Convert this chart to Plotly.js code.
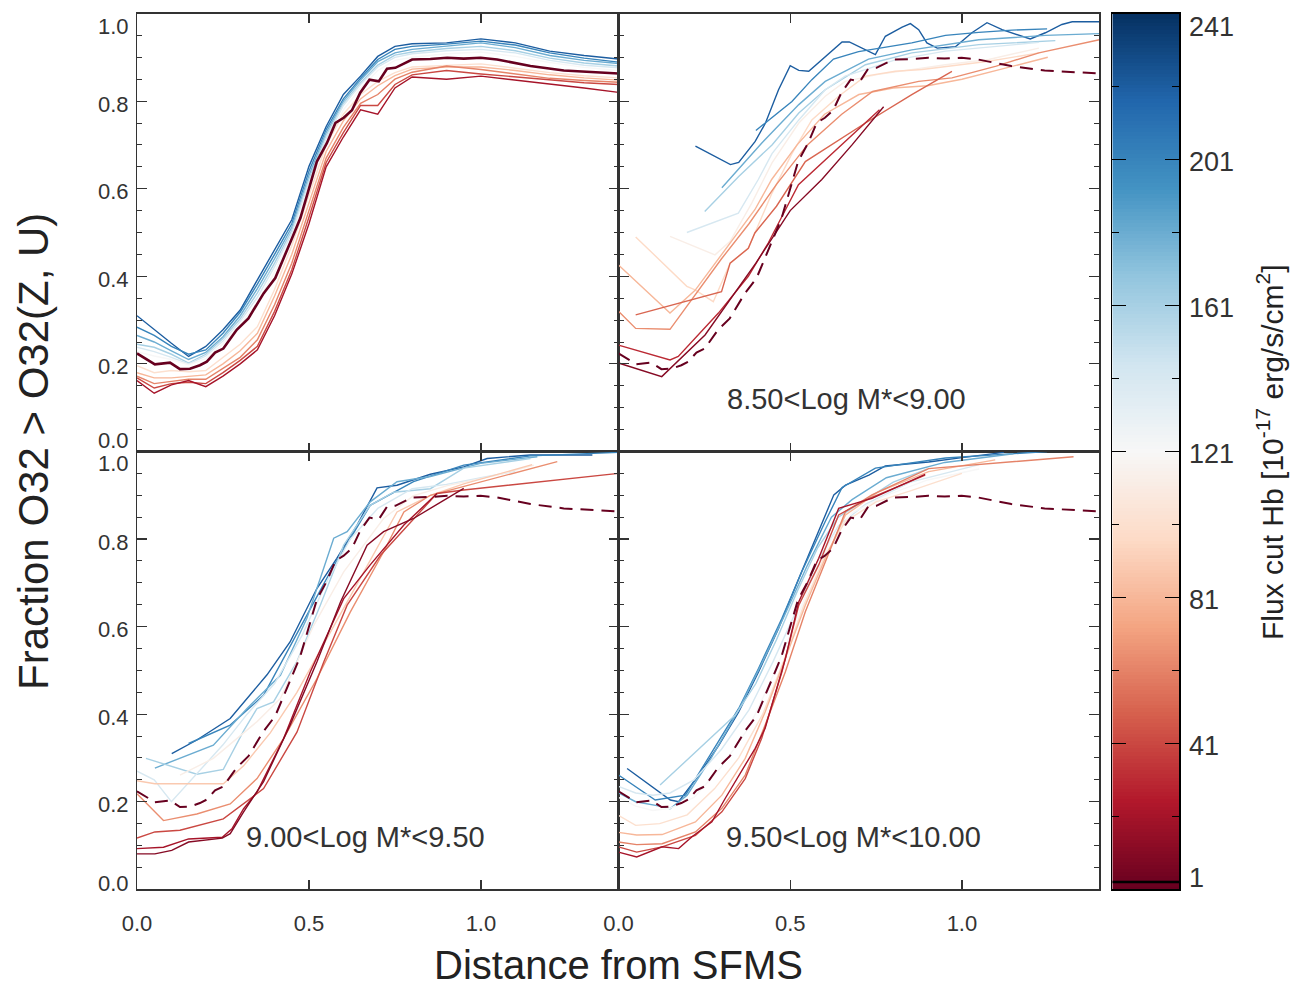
<!DOCTYPE html>
<html><head><meta charset="utf-8">
<script src="https://cdn.plot.ly/plotly-3.0.1.min.js"></script>
<style>html,body{margin:0;padding:0;background:#fff}#chart{width:1290px;height:989px}</style>
</head><body><div id="chart"></div>
<script>
// ---------- tick labels ----------
const xTickVals = [0, 0.5, 1.0];
const xTickText = ['0.0', '0.5', '1.0'];
const yTickVals = [0, 0.2, 0.4, 0.6, 0.8, 1.0];
const yTickText = ['0.0', '0.2', '0.4', '0.6', '0.8', '1.0'];
const cbTickVals = [1, 41, 81, 121, 161, 201, 241];
const cbTickText = ['1', '41', '81', '121', '161', '201', '241'];
const cbMinorVals = [21, 61, 101, 141, 181, 221];
const massLabels = ['8.50&lt;Log M*&lt;9.00', '9.00&lt;Log M*&lt;9.50', '9.50&lt;Log M*&lt;10.00'];
const fullSampleMark = 3;

// ---------- full sample (flux cut 1) ----------
const allCut = 1;
const allX = [0.0,0.052,0.096,0.125,0.154,0.183,0.203,0.227,0.251,0.290,0.324,0.368,0.402,0.436,0.455,0.475,0.499,0.523,0.552,0.577,0.601,0.625,0.649,0.676,0.703,0.727,0.751,0.800,0.853,0.902,0.950,0.999,1.047,1.144,1.241,1.400];
const allY = [0.224,0.199,0.203,0.188,0.189,0.197,0.205,0.226,0.235,0.278,0.304,0.361,0.396,0.462,0.495,0.533,0.598,0.662,0.704,0.750,0.762,0.779,0.819,0.849,0.845,0.874,0.876,0.895,0.896,0.899,0.897,0.899,0.895,0.880,0.870,0.863];

// ---------- top-left panel: all masses ----------
const tlX = [0,0.05,0.1,0.15,0.2,0.25,0.3,0.35,0.4,0.45,0.5,0.55,0.6,0.65,0.7,0.75,0.8,0.9,1.0,1.1,1.2,1.3,1.4];
const tl221 = [0.310,0.278,0.247,0.217,0.240,0.278,0.323,0.392,0.461,0.529,0.651,0.742,0.815,0.857,0.902,0.925,0.931,0.933,0.942,0.933,0.914,0.904,0.896];
const tl201 = [0.284,0.265,0.240,0.222,0.232,0.270,0.318,0.382,0.450,0.520,0.640,0.735,0.805,0.852,0.895,0.918,0.925,0.930,0.937,0.928,0.910,0.898,0.889];
const tl181 = [0.265,0.250,0.230,0.210,0.226,0.262,0.310,0.372,0.440,0.512,0.630,0.728,0.800,0.848,0.890,0.910,0.918,0.925,0.933,0.922,0.904,0.893,0.886];
const tl161 = [0.245,0.238,0.222,0.202,0.222,0.258,0.303,0.362,0.430,0.505,0.622,0.722,0.795,0.842,0.882,0.905,0.912,0.920,0.925,0.915,0.898,0.887,0.880];
const tl141 = [0.238,0.228,0.215,0.200,0.218,0.252,0.297,0.352,0.422,0.498,0.615,0.715,0.790,0.838,0.878,0.900,0.908,0.915,0.918,0.910,0.893,0.882,0.876];
const tl121 = [0.228,0.218,0.210,0.198,0.212,0.246,0.290,0.340,0.410,0.488,0.605,0.705,0.780,0.830,0.870,0.893,0.900,0.908,0.912,0.902,0.888,0.877,0.870];
const tl101 = [0.196,0.180,0.185,0.182,0.185,0.215,0.245,0.285,0.370,0.470,0.585,0.700,0.770,0.815,0.845,0.865,0.878,0.882,0.885,0.875,0.865,0.858,0.853];
const tl81  = [0.180,0.168,0.168,0.172,0.175,0.200,0.230,0.270,0.355,0.450,0.565,0.685,0.755,0.805,0.835,0.858,0.873,0.878,0.878,0.870,0.860,0.853,0.848];
const tl61  = [0.172,0.155,0.160,0.165,0.165,0.190,0.215,0.255,0.335,0.430,0.550,0.670,0.740,0.795,0.815,0.850,0.866,0.880,0.872,0.862,0.852,0.847,0.843];
const tl41  = [0.168,0.145,0.155,0.158,0.155,0.180,0.208,0.240,0.320,0.415,0.535,0.660,0.728,0.790,0.790,0.838,0.860,0.870,0.862,0.855,0.848,0.842,0.838];
const tl21  = [0.162,0.133,0.152,0.162,0.148,0.172,0.200,0.232,0.310,0.405,0.520,0.650,0.718,0.780,0.770,0.830,0.855,0.850,0.857,0.848,0.840,0.830,0.820];

// ---------- top-right panel: 8.50 < Log M* < 9.00 ----------
const p2_221_x = [0.224,0.326,0.350,0.398,0.428,0.466,0.500,0.525,0.554,0.602,0.651,0.672,0.709,0.748,0.777,0.826,0.850,0.874,0.898,0.928,0.981,1.029,1.073,1.117,1.199,1.243,1.291,1.321,1.400];
const p2_221_y = [0.697,0.655,0.660,0.708,0.750,0.826,0.881,0.870,0.868,0.902,0.935,0.935,0.921,0.906,0.948,0.969,0.977,0.963,0.933,0.921,0.924,0.956,0.979,0.963,0.942,0.956,0.975,0.981,0.981];
const p2_201_x = [0.400,0.505,0.563,0.626,0.699,0.757,0.854,0.952,1.049,1.146,1.248];
const p2_201_y = [0.733,0.799,0.849,0.896,0.913,0.921,0.933,0.950,0.957,0.962,0.965];
const p2_181_x = [0.301,0.418,0.525,0.602,0.728,0.854,1.049,1.243,1.400];
const p2_181_y = [0.602,0.705,0.792,0.845,0.896,0.917,0.940,0.950,0.954];
const p2_161_x = [0.251,0.350,0.447,0.525,0.602,0.719,0.854,1.049,1.272];
const p2_161_y = [0.548,0.628,0.700,0.773,0.826,0.883,0.910,0.929,0.938];
const p2_141_x = [0.199,0.349,0.407,0.447,0.525,0.602,0.660,0.806,0.952,1.224];
const p2_141_y = [0.500,0.544,0.621,0.680,0.757,0.826,0.857,0.894,0.914,0.934];
const p2_113_x = [0.150,0.281,0.325,0.388,0.447,0.525,0.602,0.660,0.757,0.854,0.952,1.078,1.224];
const p2_113_y = [0.491,0.449,0.480,0.567,0.659,0.750,0.811,0.845,0.861,0.872,0.883,0.895,0.921];
const p2_97_x = [0.050,0.199,0.223,0.276,0.325,0.378,0.447,0.505,0.563,0.641,0.719,0.806,0.884,1.078,1.224];
const p2_97_y = [0.490,0.377,0.369,0.342,0.430,0.464,0.590,0.680,0.757,0.811,0.857,0.868,0.872,0.891,0.910];
const p2_81_x = [0.0,0.150,0.223,0.300,0.397,0.446,0.520,0.600,0.700,0.800,0.900,1.000,1.150,1.250];
const p2_81_y = [0.426,0.316,0.368,0.449,0.552,0.621,0.700,0.770,0.815,0.830,0.835,0.850,0.880,0.900];
const p2_65_x = [0.0,0.050,0.150,0.228,0.300,0.380,0.460,0.550,0.650,0.740,0.874,0.971,1.100,1.224,1.400];
const p2_65_y = [0.320,0.281,0.279,0.362,0.440,0.520,0.610,0.700,0.770,0.822,0.845,0.853,0.880,0.910,0.940];
const p2_51_x = [0.050,0.300,0.325,0.378,0.397,0.460,0.544,0.620,0.719,0.854,0.971];
const p2_51_y = [0.312,0.365,0.430,0.464,0.499,0.560,0.662,0.700,0.750,0.815,0.868];
const p2_31_x = [0.0,0.150,0.174,0.291,0.378,0.436,0.524,0.650,0.760];
const p2_31_y = [0.243,0.209,0.217,0.316,0.400,0.476,0.609,0.700,0.780];
const p2_11_x = [0.0,0.126,0.252,0.400,0.500,0.592,0.680,0.772];
const p2_11_y = [0.202,0.171,0.266,0.430,0.550,0.621,0.700,0.787];

// ---------- bottom-left panel: 9.00 < Log M* < 9.50 ----------
const p3_221_x = [0.101,0.174,0.271,0.378,0.445,0.523,0.581,0.640,0.698,0.756,0.853,0.950,1.018,1.144,1.324];
const p3_221_y = [0.310,0.341,0.390,0.490,0.565,0.687,0.756,0.832,0.917,0.923,0.948,0.965,0.984,0.992,0.992];
const p3_201_x = [0.150,0.271,0.368,0.484,0.562,0.678,0.804,0.950,1.144,1.400];
const p3_201_y = [0.333,0.375,0.443,0.610,0.725,0.877,0.931,0.969,0.990,0.998];
const p3_181_x = [0.052,0.222,0.320,0.417,0.494,0.572,0.611,0.678,0.756,0.853,0.999,1.164];
const p3_181_y = [0.277,0.329,0.413,0.489,0.619,0.802,0.817,0.885,0.931,0.943,0.973,0.988];
const p3_161_x = [0.026,0.174,0.251,0.310,0.349,0.397,0.465,0.533,0.601,0.678,0.746,0.853,0.950,1.144];
const p3_161_y = [0.299,0.263,0.274,0.362,0.413,0.428,0.520,0.649,0.786,0.877,0.907,0.915,0.962,0.984];
const p3_141_x = [0.0,0.050,0.100,0.170,0.250,0.320,0.400,0.480,0.550,0.620,0.700,0.800,0.900,1.000,1.100];
const p3_141_y = [0.270,0.250,0.200,0.260,0.330,0.400,0.470,0.580,0.700,0.800,0.870,0.915,0.925,0.940,0.955];
const p3_113_x = [0.125,0.222,0.349,0.417,0.514,0.601,0.717,0.804,0.902,1.047,1.154];
const p3_113_y = [0.261,0.299,0.383,0.436,0.603,0.725,0.847,0.899,0.922,0.946,0.969];
const p3_89_x = [0.0,0.052,0.251,0.310,0.388,0.465,0.562,0.659,0.756,0.853,0.950,1.149];
const p3_89_y = [0.248,0.241,0.241,0.282,0.358,0.450,0.587,0.725,0.862,0.900,0.926,0.970];
const p3_65_x = [0.0,0.077,0.174,0.271,0.349,0.426,0.523,0.620,0.717,0.776,0.853,0.999,1.222];
const p3_65_y = [0.218,0.157,0.172,0.195,0.253,0.344,0.481,0.633,0.771,0.862,0.900,0.931,0.977];
const p3_41_x = [0.0,0.052,0.125,0.251,0.368,0.465,0.543,0.611,0.708,0.804,0.872,0.950,1.400];
const p3_41_y = [0.117,0.131,0.135,0.161,0.230,0.359,0.519,0.649,0.763,0.847,0.904,0.912,0.950];
const p3_21_x = [0.0,0.077,0.150,0.248,0.276,0.310,0.349,0.426,0.504,0.601,0.678,0.776,0.872];
const p3_21_y = [0.093,0.096,0.115,0.119,0.138,0.184,0.222,0.344,0.497,0.664,0.741,0.832,0.904];
const p3_11_x = [0.0,0.052,0.101,0.150,0.248,0.271,0.310,0.368,0.445,0.523,0.592,0.669,0.717,0.804,0.950];
const p3_11_y = [0.081,0.081,0.089,0.108,0.117,0.127,0.177,0.246,0.375,0.519,0.657,0.786,0.817,0.847,0.916];

// ---------- bottom-right panel: 9.50 < Log M* < 10.00 ----------
const p4_221_x = [0.025,0.151,0.175,0.233,0.292,0.350,0.408,0.466,0.525,0.583,0.627,0.661,0.729,0.777,0.903,1.000,1.122];
const p4_221_y = [0.276,0.204,0.200,0.260,0.329,0.405,0.497,0.596,0.710,0.817,0.901,0.923,0.946,0.967,0.976,0.986,0.998];
const p4_201_x = [0.0,0.107,0.195,0.272,0.350,0.408,0.476,0.534,0.602,0.651,0.748,0.952,1.248];
const p4_201_y = [0.261,0.204,0.215,0.314,0.413,0.505,0.619,0.726,0.840,0.918,0.962,0.985,1.000];
const p4_181_x = [0.0,0.050,0.120,0.150,0.200,0.270,0.350,0.420,0.480,0.550,0.620,0.680,0.780,0.950,1.150];
const p4_181_y = [0.220,0.200,0.190,0.184,0.215,0.300,0.410,0.520,0.620,0.740,0.850,0.890,0.940,0.975,0.995];
const p4_161_x = [0.121,0.340,0.400,0.460,0.520,0.580,0.640,0.720,0.800,0.900];
const p4_161_y = [0.238,0.398,0.470,0.570,0.680,0.780,0.850,0.890,0.930,0.960];
const p4_141_x = [0.0,0.050,0.100,0.150,0.220,0.300,0.380,0.450,0.520,0.580,0.640,0.720,0.850,1.050];
const p4_141_y = [0.235,0.220,0.215,0.220,0.250,0.320,0.410,0.520,0.640,0.750,0.830,0.880,0.930,0.970];
const p4_121_x = [0.0,0.050,0.100,0.150,0.220,0.300,0.380,0.440,0.500,0.560,0.620,0.680,0.780,0.900,1.050];
const p4_121_y = [0.210,0.190,0.180,0.185,0.210,0.280,0.370,0.470,0.580,0.700,0.800,0.860,0.900,0.935,0.960];
const p4_101_x = [0.0,0.050,0.120,0.200,0.280,0.350,0.420,0.480,0.540,0.600,0.660,0.750,0.850,1.000];
const p4_101_y = [0.169,0.146,0.150,0.170,0.230,0.300,0.400,0.520,0.650,0.760,0.840,0.885,0.910,0.950];
const p4_81_x = [0.0,0.053,0.127,0.224,0.301,0.369,0.427,0.486,0.544,0.602,0.661,0.757,0.903,1.097];
const p4_81_y = [0.130,0.124,0.125,0.154,0.215,0.299,0.405,0.527,0.649,0.756,0.855,0.908,0.954,0.981];
const p4_61_x = [0.0,0.053,0.127,0.224,0.301,0.369,0.427,0.486,0.544,0.602,0.661,0.738,0.903,1.325];
const p4_61_y = [0.108,0.102,0.104,0.131,0.185,0.261,0.375,0.497,0.634,0.749,0.863,0.901,0.961,0.988];
const p4_41_x = [0.0,0.053,0.127,0.224,0.301,0.369,0.417,0.476,0.525,0.583,0.641,0.719,0.893];
const p4_41_y = [0.097,0.085,0.097,0.123,0.177,0.253,0.345,0.497,0.649,0.741,0.855,0.889,0.946];
const p4_21_x = [0.0,0.053,0.127,0.175,0.214,0.272,0.311,0.369,0.398,0.427,0.486,0.525,0.583,0.641,0.738,0.893];
const p4_21_y = [0.085,0.074,0.097,0.093,0.120,0.154,0.208,0.284,0.322,0.368,0.527,0.657,0.756,0.870,0.893,0.948];

// ---------- colour scale (ColorBrewer RdBu, red = low) ----------
const rdbu = ['#67001f','#b2182b','#d6604d','#f4a582','#fddbc7','#f7f7f7','#d1e5f0','#92c5de','#4393c3','#2166ac','#053061'];
const cbMin = cbTickVals[0], cbMax = cbTickVals[cbTickVals.length - 1];
function hexRgb(h) { return [1, 3, 5].map(i => parseInt(h.slice(i, i + 2), 16)); }
function cutColor(v) {
  let t = (v - cbMin) / (cbMax - cbMin) * (rdbu.length - 1);
  t = Math.max(0, Math.min(rdbu.length - 1, t));
  const i = Math.min(rdbu.length - 2, Math.floor(t)), f = t - i;
  const a = hexRgb(rdbu[i]), b = hexRgb(rdbu[i + 1]);
  const c = a.map((q, k) => Math.round(q + (b[k] - q) * f));
  return 'rgb(' + c.join(',') + ')';
}

// ---------- geometry ----------
const W = 1290, H = 989;
const fx = v => v / W, fy = v => 1 - v / H;
const colL = 137, colM = 618.5, colR = 1099.3, rowT = 13.5, rowM = 451.5, rowB = 889.3;
const FONT = '"Liberation Sans", Arial, Helvetica, sans-serif';
const INK = '#333';

// ---------- traces ----------
const traces = [];
function addLine(x, y, cut, xa, ya, extra) {
  traces.push(Object.assign({
    type: 'scatter', mode: 'lines', x: x, y: y, xaxis: xa, yaxis: ya,
    hoverinfo: 'skip', line: { color: cutColor(cut), width: 1.4 }
  }, extra || {}));
}
const tlSets = [[221, tl221], [201, tl201], [181, tl181], [161, tl161], [141, tl141], [121, tl121], [101, tl101], [81, tl81], [61, tl61], [41, tl41], [21, tl21]];
tlSets.forEach(s => addLine(tlX, s[1], s[0], 'x', 'y'));
addLine(allX, allY, allCut, 'x', 'y', { line: { color: cutColor(allCut), width: 2.6 } });

const p2Sets = [[221, p2_221_x, p2_221_y], [201, p2_201_x, p2_201_y], [181, p2_181_x, p2_181_y], [161, p2_161_x, p2_161_y], [141, p2_141_x, p2_141_y], [113, p2_113_x, p2_113_y], [97, p2_97_x, p2_97_y], [81, p2_81_x, p2_81_y], [65, p2_65_x, p2_65_y], [51, p2_51_x, p2_51_y], [31, p2_31_x, p2_31_y], [11, p2_11_x, p2_11_y]];
const p3Sets = [[221, p3_221_x, p3_221_y], [201, p3_201_x, p3_201_y], [181, p3_181_x, p3_181_y], [161, p3_161_x, p3_161_y], [141, p3_141_x, p3_141_y], [113, p3_113_x, p3_113_y], [89, p3_89_x, p3_89_y], [65, p3_65_x, p3_65_y], [41, p3_41_x, p3_41_y], [21, p3_21_x, p3_21_y], [11, p3_11_x, p3_11_y]];
const p4Sets = [[221, p4_221_x, p4_221_y], [201, p4_201_x, p4_201_y], [181, p4_181_x, p4_181_y], [161, p4_161_x, p4_161_y], [141, p4_141_x, p4_141_y], [121, p4_121_x, p4_121_y], [101, p4_101_x, p4_101_y], [81, p4_81_x, p4_81_y], [61, p4_61_x, p4_61_y], [41, p4_41_x, p4_41_y], [21, p4_21_x, p4_21_y]];
[[p2Sets, 'x2', 'y2'], [p3Sets, 'x3', 'y3'], [p4Sets, 'x4', 'y4']].forEach(p => {
  p[0].forEach(s => addLine(s[1], s[2], s[0], p[1], p[2]));
  addLine(allX, allY, allCut, p[1], p[2], { line: { color: cutColor(allCut), width: 2.0, dash: '13px,8px' } });
});

// colour bar drawn as a heatmap on its own axes
const cbLevels = [];
for (let v = cbMin; v <= cbMax; v++) cbLevels.push(v);
traces.push({
  type: 'heatmap', x: [0.5], y: cbLevels, z: cbLevels.map(v => [v]),
  xaxis: 'x5', yaxis: 'y5', zmin: cbMin, zmax: cbMax,
  colorscale: rdbu.map((c, i) => [i / (rdbu.length - 1), c]),
  showscale: false, hoverinfo: 'skip'
});
traces.push({
  type: 'scatter', mode: 'lines', x: [0, 1], y: [fullSampleMark, fullSampleMark],
  xaxis: 'x5', yaxis: 'y5', hoverinfo: 'skip', line: { color: '#000', width: 2.5 }
});

// ---------- axes ----------
function xAxis(domain, anchor, labels) {
  return {
    domain: domain, anchor: anchor, range: [0, 1.4],
    tickmode: 'array', tickvals: xTickVals, ticktext: xTickText, showticklabels: labels,
    ticks: 'inside', ticklen: 9, tickwidth: 1.2, tickcolor: INK,
    mirror: 'ticks', showline: true, linecolor: INK, linewidth: 1.5,
    showgrid: false, zeroline: false, fixedrange: true,
    tickfont: { family: FONT, size: 22, color: INK }, ticklabelstandoff: 14
  };
}
function yAxis(domain, anchor) {
  return {
    domain: domain, anchor: anchor, range: [0, 1],
    tickmode: 'array', tickvals: yTickVals, showticklabels: false,
    ticks: 'inside', ticklen: 10, tickwidth: 1.2, tickcolor: INK,
    minor: { tickmode: 'linear', tick0: 0, dtick: 0.05, ticks: 'inside', ticklen: 5, tickwidth: 1, tickcolor: INK },
    mirror: 'ticks', showline: true, linecolor: INK, linewidth: 1.5,
    showgrid: false, zeroline: false, fixedrange: true
  };
}
const xLeft = [fx(colL), fx(colM)], xRight = [fx(colM), fx(colR)];
const yTop = [fy(rowM), fy(rowT)], yBot = [fy(rowB), fy(rowM)];

// ---------- annotations ----------
const ann = [];
const tickFont = { family: FONT, size: 22, color: INK };
function yShiftFor(i, n, top, bottom) { return i === n - 1 ? top : (i === 0 ? bottom : -3); }
yTickVals.forEach((v, i) => {
  ann.push({ xref: 'paper', yref: 'y', x: fx(130), y: v, xanchor: 'right', yanchor: 'middle', text: yTickText[i], showarrow: false, font: tickFont, borderpad: 0, yshift: yShiftFor(i, yTickVals.length, -13, 11) });
  ann.push({ xref: 'paper', yref: 'y3', x: fx(130), y: v, xanchor: 'right', yanchor: 'middle', text: yTickText[i], showarrow: false, font: tickFont, borderpad: 0, yshift: yShiftFor(i, yTickVals.length, -12, 6) });
});
cbTickVals.forEach((v, i) => {
  ann.push({ xref: 'paper', yref: 'y5', x: fx(1187), y: v, xanchor: 'left', yanchor: 'middle', text: cbTickText[i], showarrow: false, font: { family: FONT, size: 27, color: INK }, yshift: yShiftFor(i, cbTickVals.length, -14, 11) });
});
const labelFont = { family: FONT, size: 29, color: INK };
ann.push({ xref: 'x2', yref: 'y2', x: 0.6625, y: 0.12, xanchor: 'center', yanchor: 'middle', text: massLabels[0], showarrow: false, font: labelFont });
ann.push({ xref: 'x3', yref: 'y3', x: 0.664, y: 0.12, xanchor: 'center', yanchor: 'middle', text: massLabels[1], showarrow: false, font: labelFont });
ann.push({ xref: 'x4', yref: 'y4', x: 0.685, y: 0.12, xanchor: 'center', yanchor: 'middle', text: massLabels[2], showarrow: false, font: labelFont });
ann.push({ xref: 'paper', yref: 'paper', x: fx(33), y: fy(452), xanchor: 'center', yanchor: 'middle', text: 'Fraction O32 &gt; O32(Z, U)', textangle: -90, showarrow: false, font: { family: FONT, size: 42, color: '#222' } });
ann.push({ xref: 'paper', yref: 'paper', x: fx(618), y: fy(965), xanchor: 'center', yanchor: 'middle', text: 'Distance from SFMS', showarrow: false, borderpad: 0, font: { family: FONT, size: 40, color: '#222' } });
ann.push({ xref: 'paper', yref: 'paper', x: fx(1270), y: fy(452), xanchor: 'center', yanchor: 'middle', text: 'Flux cut Hb [10<sup>-17</sup> erg/s/cm<sup>2</sup>]', textangle: -90, showarrow: false, font: { family: FONT, size: 30, color: '#222' } });

const layout = {
  width: W, height: H, margin: { l: 0, r: 0, t: 0, b: 0 },
  paper_bgcolor: '#fff', plot_bgcolor: 'rgba(0,0,0,0)', showlegend: false,
  font: { family: FONT, color: INK },
  xaxis: xAxis(xLeft, 'y', false), yaxis: yAxis(yTop, 'x'),
  xaxis2: xAxis(xRight, 'y2', false), yaxis2: yAxis(yTop, 'x2'),
  xaxis3: xAxis(xLeft, 'y3', true), yaxis3: yAxis(yBot, 'x3'),
  xaxis4: xAxis(xRight, 'y4', true), yaxis4: yAxis(yBot, 'x4'),
  xaxis5: { domain: [fx(1112.3), fx(1179)], anchor: 'y5', range: [0, 1], showticklabels: false, ticks: '', showline: true, mirror: true, linecolor: '#000', linewidth: 1.5, showgrid: false, zeroline: false, fixedrange: true },
  yaxis5: { domain: [fy(rowB), fy(rowT)], anchor: 'x5', range: [cbMin, cbMax], tickmode: 'array', tickvals: cbTickVals, showticklabels: false,
    ticks: 'inside', ticklen: 14, tickwidth: 1.2, tickcolor: '#000', mirror: 'ticks', showline: true, linecolor: '#000', linewidth: 1.5,
    minor: { tickmode: 'array', tickvals: cbMinorVals, ticks: 'inside', ticklen: 7, tickwidth: 1, tickcolor: '#000' },
    showgrid: false, zeroline: false, fixedrange: true },
  annotations: ann
};

Plotly.newPlot('chart', traces, layout, { displayModeBar: false, staticPlot: true });
</script>
</body></html>
